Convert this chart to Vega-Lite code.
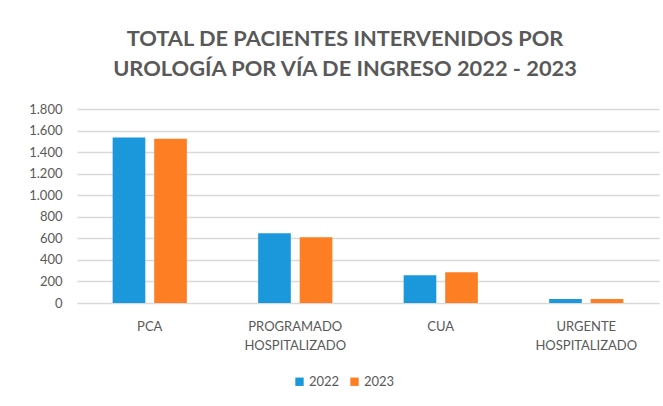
{
  "$schema": "https://vega.github.io/schema/vega-lite/v6.json",
  "autosize": "none",
  "width": 582,
  "height": 194,
  "padding": {"left": 77, "top": 109, "right": 4, "bottom": 103},
  "background": "white",
  "title": {
    "text": ["TOTAL DE PACIENTES INTERVENIDOS POR", "UROLOGÍA POR VÍA DE INGRESO 2022 - 2023"],
    "font": "Lato",
    "fontSize": 21.8,
    "fontWeight": "bold",
    "color": "#595959",
    "anchor": "middle",
    "dx": -23,
    "offset": 22,
    "lineHeight": 30
  },
  "data": {
    "values": [
      {"via": "PCA", "year": "2022", "n": 1535},
      {"via": "PCA", "year": "2023", "n": 1525},
      {"via": "PROGRAMADO HOSPITALIZADO", "year": "2022", "n": 647},
      {"via": "PROGRAMADO HOSPITALIZADO", "year": "2023", "n": 610},
      {"via": "CUA", "year": "2022", "n": 258},
      {"via": "CUA", "year": "2023", "n": 285},
      {"via": "URGENTE HOSPITALIZADO", "year": "2022", "n": 37},
      {"via": "URGENTE HOSPITALIZADO", "year": "2023", "n": 37}
    ]
  },
  "mark": {"type": "bar"},
  "encoding": {
    "x": {
      "field": "via",
      "type": "nominal",
      "sort": ["PCA", "PROGRAMADO HOSPITALIZADO", "CUA", "URGENTE HOSPITALIZADO"],
      "scale": {"paddingInner": 0.49, "paddingOuter": 0.245},
      "axis": {
        "title": null,
        "labelAngle": 0,
        "labelExpr": "split(datum.label, ' ')",
        "labelFont": "Lato",
        "labelFontSize": 13,
        "labelColor": "#595959",
        "labelPadding": 17,
        "labelLineHeight": 19,
        "ticks": false,
        "domainColor": "#d9d9d9",
        "grid": false
      }
    },
    "xOffset": {
      "field": "year",
      "type": "nominal",
      "scale": {"paddingInner": 0.214, "paddingOuter": 0}
    },
    "y": {
      "field": "n",
      "type": "quantitative",
      "scale": {"domain": [0, 1800]},
      "axis": {
        "title": null,
        "values": [0, 200, 400, 600, 800, 1000, 1200, 1400, 1600, 1800],
        "labelExpr": "replace(format(datum.value, ','), ',', '.')",
        "labelFont": "Lato",
        "labelFontSize": 13,
        "labelColor": "#595959",
        "labelPadding": 15,
        "ticks": false,
        "domain": false,
        "gridColor": "#d9d9d9",
        "gridWidth": 1.5
      }
    },
    "color": {
      "field": "year",
      "type": "nominal",
      "scale": {"domain": ["2022", "2023"], "range": ["#1b98db", "#fd7e23"]},
      "legend": {
        "title": null,
        "orient": "none",
        "direction": "horizontal",
        "legendX": 216,
        "legendY": 266,
        "symbolType": "square",
        "symbolSize": 70,
        "symbolStrokeWidth": 0,
        "labelFont": "Lato",
        "labelFontSize": 13,
        "labelColor": "#595959",
        "columnPadding": 8,
        "labelOffset": 3
      }
    }
  },
  "config": {"view": {"stroke": null}}
}
